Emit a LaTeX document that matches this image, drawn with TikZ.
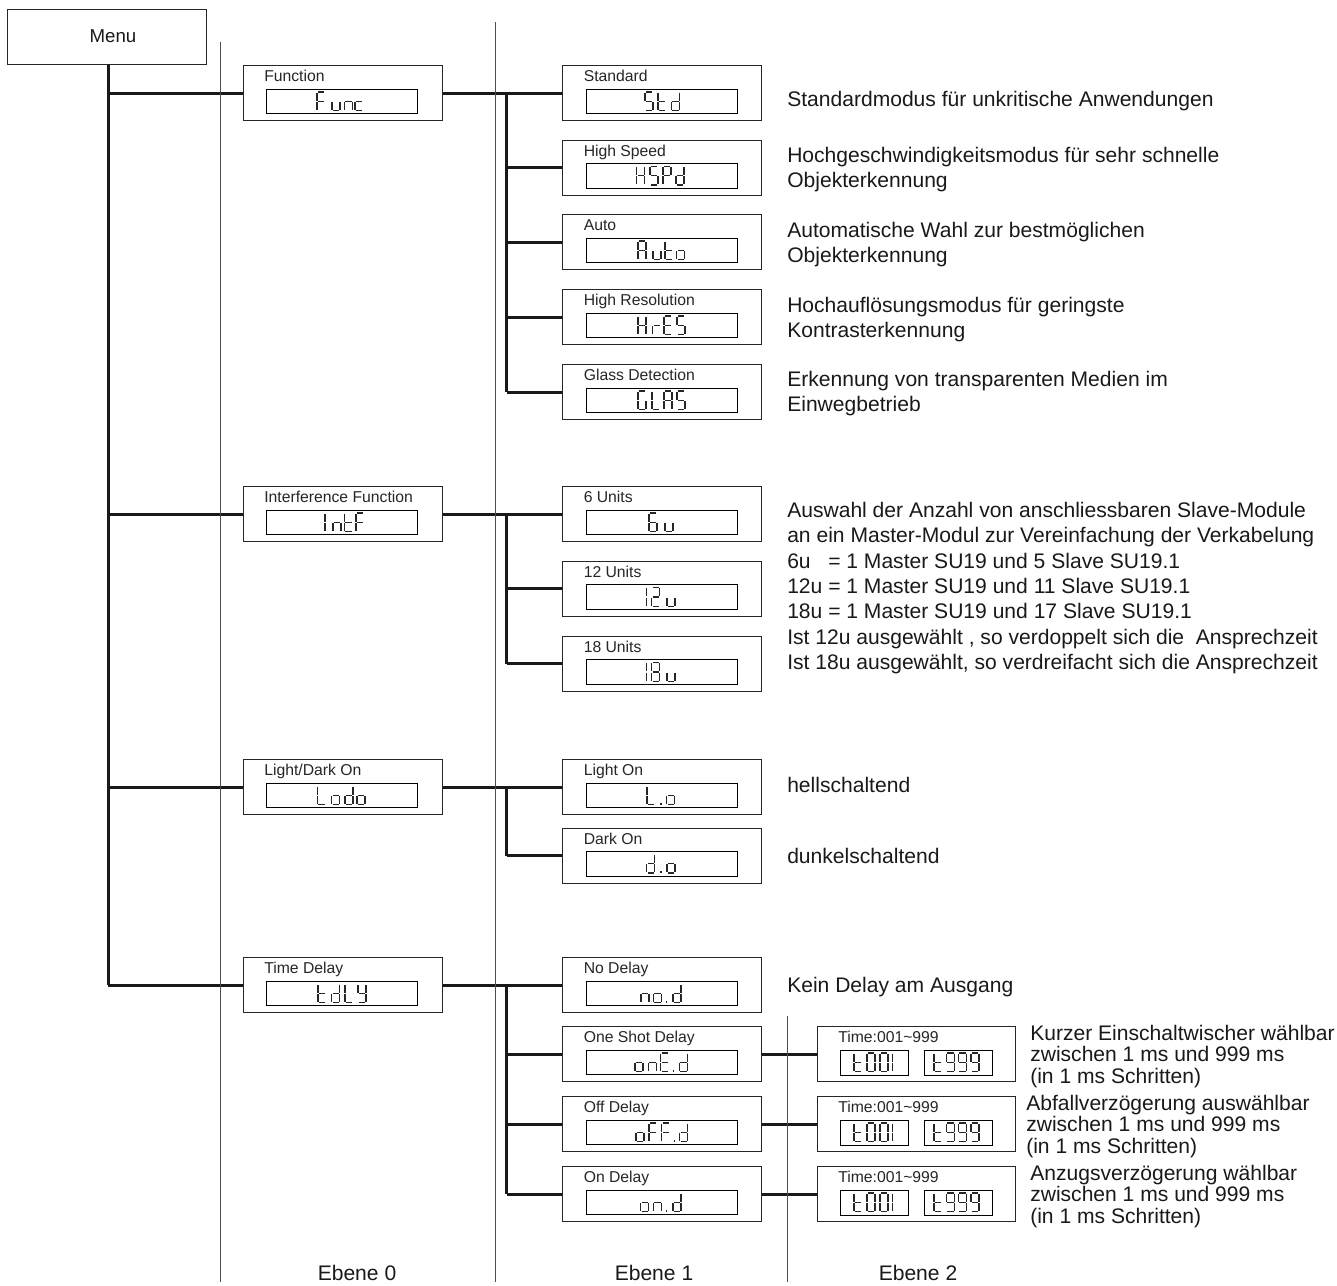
\documentclass[tikz,border=0pt]{standalone}
\usepackage{fontspec}
\setmainfont{Liberation Sans}
% seven-segment strokes, relative to a glyph's top-left corner
\def\sega{(0.8,0)--(7.2,0)}
\def\segb{(8,0.6)--(8,8.6)}
\def\segc{(8,9.9)--(8,17.9)}
\def\segd{(0.8,18.5)--(7.2,18.5)}
\def\sege{(0,9.9)--(0,17.9)}
\def\segf{(0,0.6)--(0,8.6)}
\def\segg{(0.8,9.25)--(7.2,9.25)}
\def\segp{(0.4,16.6)--(0.4,18.9)}
\newcommand\defglyph[2]{\expandafter\def\csname lcdgl#1\endcsname{#2}}
\defglyph{F}{a,f,e,g}\defglyph{u}{e,c,d}\defglyph{n}{e,g,c}\defglyph{c}{g,e,d}
\defglyph{S}{a,f,g,c,d}\defglyph{t}{f,e,g,d}\defglyph{d}{b,c,d,e,g}
\defglyph{H}{f,e,b,c,g}\defglyph{P}{a,b,f,e,g}\defglyph{A}{a,b,c,e,f,g}
\defglyph{o}{g,c,d,e}\defglyph{r}{e,g}\defglyph{E}{a,f,g,e,d}
\defglyph{G}{a,f,e,d,c}\defglyph{L}{f,e,d}\defglyph{Y}{f,b,g,c,d}
\defglyph{0}{a,b,c,d,e,f}\defglyph{1}{e,f}\defglyph{2}{a,b,g,e,d}
\defglyph{6}{a,f,g,e,d,c}\defglyph{8}{a,b,c,d,e,f,g}\defglyph{9}{a,b,f,g,c,d}
\defglyph{p}{p}
\tikzset{
  lcdseg/.style={line width=1pt,draw=black!85},
  outerbox/.style={draw=black!85,line width=1.05pt,fill=white,inner sep=0pt,anchor=north west,minimum height=41.25pt},
  innerbox/.style={draw=black,line width=0.95pt,fill=white,inner sep=0pt,anchor=north west,minimum height=18.4pt},
  boxlabel/.style={inner sep=0pt,anchor=base west,font=\fontsize{11.8}{14}\selectfont,text=black!85},
  desc/.style={inner sep=0pt,anchor=base west,align=left,font=\fontsize{15.8}{19.05}\selectfont,text=black!90},
  small/.style={inner sep=0pt,anchor=base west,align=left,font=\fontsize{15.8}{16.2}\selectfont,text=black!90},
  foot/.style={inner sep=0pt,anchor=base,font=\fontsize{15.8}{16}\selectfont,text=black!90},
  conn/.style={line width=2.25pt,draw=black!90},
  divider/.style={line width=0.7pt,draw=black!70},
}
\newcommand\lcdchar[3]{%
  \expandafter\let\expandafter\curglyph\csname lcdgl#3\endcsname
  \foreach \sgm in \curglyph {%
    \expandafter\let\expandafter\cursg\csname seg\sgm\endcsname
    \draw[lcdseg,shift={(#1,#2)}] \cursg;
  }%
}
\newcommand\lcd[2]{\foreach \ch/\xx in {#2} {\lcdchar{\xx}{#1}{\ch}}}
% name, left, top, label
\newcommand\zerobox[4]{%
  \node[outerbox,minimum width=149.25pt] (#1) at (#2,#3) {};
  \node[boxlabel] (#1l) at (#2+21.5,#3+16.5) {#4};
  \node[innerbox,minimum width=113.25pt] (#1i) at (#2+23.5,#3+23.5) {};
}
\newcommand\twobox[2]{%
  \node[outerbox,minimum width=148.5pt] (#1) at (817,#2) {};
  \node[boxlabel] (#1l) at (838,#2+16.5) {Time:001\char"7E 999};
  \node[innerbox,minimum width=51pt] (#1a) at (840,#2+24) {};
  \node[innerbox,minimum width=51pt] (#1b) at (923.5,#2+24) {};
  \lcd{#2+27}{t/854,0/867,0/880,1/892.5}
  \lcd{#2+27}{t/934,9/946.5,9/958.5,9/971}
}
\begin{document}
\begin{tikzpicture}[x=0.75pt,y=-0.75pt]
\useasboundingbox (0,0) rectangle (1337,1285);
% dividers
\coordinate (d1t) at (220,42);  \coordinate (d1b) at (220,1282);
\coordinate (d2t) at (495,22);  \coordinate (d2b) at (495,1282);
\coordinate (d3t) at (787,1016);\coordinate (d3b) at (787,1282);
\coordinate (trunk) at (108,984.5);
\coordinate (bus) at (506.5,0);
% menu
\node[draw=black!85,line width=1.05pt,inner sep=0pt,anchor=north west,minimum width=149.25pt,minimum height=41.25pt,fill=white] (menu) at (7,9) {};
\node[inner sep=0pt,font=\fontsize{14}{16}\selectfont,text=black!90] (menut) at (113,36) {Menu};
% level 0
\zerobox{func}{242.5}{65}{Function}
\zerobox{intf}{242.5}{486}{Interference Function}
\zerobox{lodo}{242.5}{759}{Light/Dark On}
\zerobox{tdly}{242.5}{957}{Time Delay}
\lcd{92}{F/317,u/332,n/344.5,c/355}
\lcd{513}{1/325,n/333,t/344.5,F/356}
\lcd{786}{L/317.3,o/331.7,d/345,o/357}
\lcd{984}{t/318,d/331.7,L/345,Y/358}
% level 1
\zerobox{std}{562}{65}{Standard}
\zerobox{hspd}{562}{139.5}{High Speed}
\zerobox{auto}{562}{214}{Auto}
\zerobox{hres}{562}{289}{High Resolution}
\zerobox{glas}{562}{364}{Glass Detection}
\zerobox{six}{562}{486}{6 Units}
\zerobox{twelve}{562}{560.7}{12 Units}
\zerobox{eighteen}{562}{635.7}{18 Units}
\zerobox{lighton}{562}{759}{Light On}
\zerobox{darkon}{562}{827.5}{Dark On}
\zerobox{nodelay}{562}{957}{No Delay}
\zerobox{oneshot}{562}{1026}{One Shot Delay}
\zerobox{offdelay}{562}{1096}{Off Delay}
\zerobox{ondelay}{562}{1166}{On Delay}
\lcd{92}{S/645,t/658,d/671.5}
\lcd{166.5}{H/636.7,S/650,P/663,d/676}
\lcd{241}{A/638,u/653,t/665,o/676.7}
\lcd{316}{H/638,r/652.7,E/664,S/677}
\lcd{391}{G/638,L/652,A/664,S/677}
\lcd{513}{6/649,u/665}
\lcd{587.7}{1/646.7,2/651.7,u/667}
\lcd{662.7}{1/646.7,8/651.7,u/667}
\lcd{786}{L/647,p/660.7,o/666.7}
\lcd{854.5}{d/646.7,p/660.7,o/667}
\lcd{984}{n/641,o/653.3,p/666,d/673}
\lcd{1053}{o/635,n/648.3,E/660.7,p/673,d/679.3}
\lcd{1123}{o/636,F/649,F/661.7,p/674,d/679.7}
\lcd{1193}{o/640.7,n/653.3,p/666,d/673}
% level 2
\twobox{tone}{1026}
\twobox{ttwo}{1096}
\twobox{tthree}{1166}
% connectors
\draw[conn] (trunk |- menu.south) -- (trunk);
\draw[conn] (trunk |- func.west) -- (func.west);
\draw[conn] (trunk |- intf.west) -- (intf.west);
\draw[conn] (trunk |- lodo.west) -- (lodo.west);
\draw[conn] (trunk |- tdly.west) -- (tdly.west);
\draw[conn] (func.east) -- (std.west);
\draw[conn] (bus |- func.east) -- (bus |- glas.west);
\foreach \n in {hspd,auto,hres,glas} {\draw[conn] (bus |- \n.west) -- (\n.west);}
\draw[conn] (intf.east) -- (six.west);
\draw[conn] (bus |- intf.east) -- (bus |- eighteen.west);
\foreach \n in {twelve,eighteen} {\draw[conn] (bus |- \n.west) -- (\n.west);}
\draw[conn] (lodo.east) -- (lighton.west);
\draw[conn] (bus |- lodo.east) -- (bus |- darkon.west);
\draw[conn] (bus |- darkon.west) -- (darkon.west);
\draw[conn] (tdly.east) -- (nodelay.west);
\draw[conn] (bus |- tdly.east) -- (bus |- ondelay.west);
\foreach \n in {oneshot,offdelay,ondelay} {\draw[conn] (bus |- \n.west) -- (\n.west);}
\draw[conn] (oneshot.east) -- (tone.west);
\draw[conn] (offdelay.east) -- (ttwo.west);
\draw[conn] (ondelay.east) -- (tthree.west);
\draw[divider] (d1t) -- (d1b);
\draw[divider] (d2t) -- (d2b);
\draw[divider] (d3t) -- (d3b);
% descriptions
\node[desc] (t1) at (787,106) {Standardmodus für unkritische Anwendungen};
\node[desc,anchor=north west] (t2) at (787,146.5) {Hochgeschwindigkeitsmodus für sehr schnelle\\Objekterkennung};
\node[desc,anchor=north west] (t3) at (787,222) {Automatische Wahl zur bestmöglichen\\Objekterkennung};
\node[desc,anchor=north west] (t4) at (787,296.5) {Hochauflösungsmodus für geringste\\Kontrasterkennung};
\node[desc,anchor=north west] (t5) at (787,370.5) {Erkennung von transparenten Medien im\\Einwegbetrieb};
\node[desc,anchor=north west] (t6) at (787,501.7) {Auswahl der Anzahl von anschliessbaren Slave-Module\\
an ein Master-Modul zur Vereinfachung der Verkabelung\\
6u\ \ \ = 1 Master SU19 und 5 Slave SU19.1\\
12u = 1 Master SU19 und 11 Slave SU19.1\\
18u = 1 Master SU19 und 17 Slave SU19.1\\
Ist 12u ausgewählt , so verdoppelt sich die\ \ Ansprechzeit\\
Ist 18u ausgewählt, so verdreifacht sich die Ansprechzeit};
\node[desc] (t7) at (787,792) {hellschaltend};
\node[desc] (t8) at (787,863) {dunkelschaltend};
\node[desc] (t9) at (787,992) {Kein Delay am Ausgang};
\node[small,anchor=north west] (t10) at (1030,1024.5) {Kurzer Einschaltwischer wählbar\\zwischen 1 ms und 999 ms\\(in 1 ms Schritten)};
\node[small,anchor=north west] (t11) at (1026,1094.5) {Abfallverzögerung auswählbar\\zwischen 1 ms und 999 ms\\(in 1 ms Schritten)};
\node[small,anchor=north west] (t12) at (1030,1164.5) {Anzugsverzögerung wählbar\\zwischen 1 ms und 999 ms\\(in 1 ms Schritten)};
% footer
\node[foot] (e0) at (357,1280) {Ebene 0};
\node[foot] (e1) at (654,1280) {Ebene 1};
\node[foot] (e2) at (918,1280) {Ebene 2};
\end{tikzpicture}
\end{document}
